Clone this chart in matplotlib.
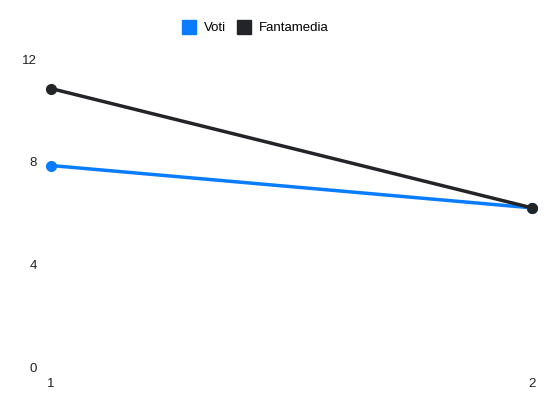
import matplotlib.pyplot as plt
from matplotlib.lines import Line2D

plt.rcParams['font.family'] = ['Liberation Sans', 'DejaVu Sans']

giornate = [1, 2]
voti = [7.85, 6.2]
fantamedia = [10.85, 6.2]
y_ticks = [0, 4, 8, 12]

blue = "#0a7cff"
dark = "#222427"

fig = plt.figure(figsize=(5.5, 4.12), dpi=100)
ax = fig.add_axes([51 / 550, 45 / 412, 481 / 550, 308 / 412])

ax.plot(giornate, voti, color=blue, lw=2.5, marker="o", ms=7, clip_on=False, zorder=2)
ax.plot(giornate, fantamedia, color=dark, lw=2.5, marker="o", ms=7, clip_on=False, zorder=3)

ax.set_xlim(1, 2)
ax.set_ylim(0, 12)
ax.set_xticks(giornate)
ax.set_xticklabels([str(g) for g in giornate])
ax.set_yticks(y_ticks)
for s in ax.spines.values():
    s.set_visible(False)
ax.tick_params(length=0, labelsize=9.5, colors="#222222")
ax.tick_params(axis="y", pad=10)
ax.tick_params(axis="x", pad=8)

handles = [
    Line2D([], [], ls="none", marker="s", ms=9.5, color=blue, label="Voti"),
    Line2D([], [], ls="none", marker="s", ms=9.5, color=dark, label="Fantamedia"),
]
fig.legend(handles=handles, loc="center", bbox_to_anchor=(0.465, 0.932), ncol=2,
           frameon=False, fontsize=9.5, handletextpad=0.6, columnspacing=0.9,
           handlelength=1.0)

fig.savefig("out.png", dpi=100)
